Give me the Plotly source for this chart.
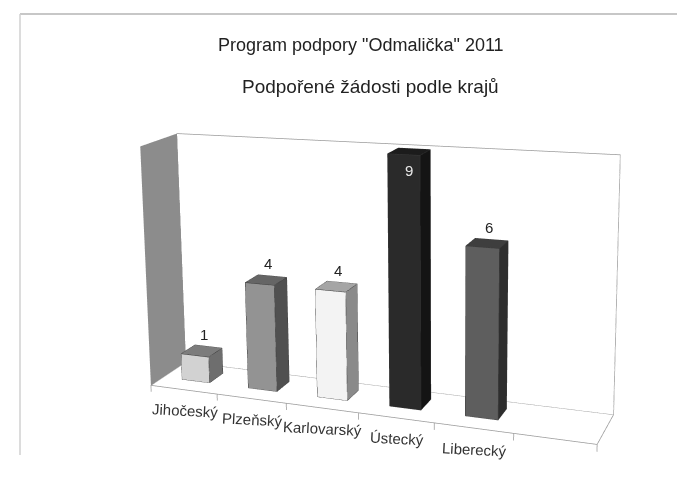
import plotly.graph_objects as go

categories = ["Jihočeský", "Plzeňský", "Karlovarský", "Ústecký", "Liberecký"]
values = [1, 4, 4, 9, 6]
front_colors = ["#d2d2d2", "#939393", "#f3f3f3", "#2a2a2a", "#5e5e5e"]
side_colors = ["#6e6e6e", "#505050", "#8a8a8a", "#141414", "#2e2e2e"]
top_colors = ["#7c7c7c", "#656565", "#a5a5a5", "#1c1c1c", "#3e3e3e"]

XR = [-0.05, 6.05]
YR = [-0.02, 1.02]
ZR = [-0.3, 9.1]

# Plotly's 3D field of view is fixed, so a larger canvas, shifted so the window
# shows the chart, gives the long lens of the original picture.
FIG_W, FIG_H = 900, 1170
OFF_X, OFF_Y = -207, -393

ASPECT = dict(x=1.0, y=0.1785, z=0.5651)
EYE = dict(x=0.9774, y=-2.7071, z=0.7948)
CENTER = dict(x=-0.1196, y=-0.3661, z=0.2555)
UP = dict(x=0.03199, y=0.0, z=0.99949)

BAR_HALF = 0.21
Y0, Y1 = 0.35, 0.75
fig = go.Figure()


def quad_mesh(xs, ys, zs, color):
    fig.add_trace(go.Mesh3d(x=xs, y=ys, z=zs, i=[0, 0], j=[1, 2], k=[2, 3], color=color,
                            flatshading=True, hoverinfo="skip", showscale=False,
                            lighting=dict(ambient=1, diffuse=0, specular=0, fresnel=0),
                            lightposition=dict(x=0, y=0, z=1000)))


def polyline(xs, ys, zs, color="#9a9a9a", width=1.5):
    fig.add_trace(go.Scatter3d(x=xs, y=ys, z=zs, mode="lines", hoverinfo="skip",
                               line=dict(color=color, width=width), showlegend=False))


zmax = max(values)
ncat = len(categories) + 1
quad_mesh([0, 0, ncat, ncat], [1, 1, 1, 1], [0, zmax, zmax, 0], "#ffffff")
quad_mesh([0, 0, 0, 0], [0, 1, 1, 0], [0, 0, zmax, zmax], "#8c8c8c")
polyline([0, 0, ncat, ncat, 0], [1, 1, 1, 1, 1], [0, zmax, zmax, 0, 0])
polyline([0, ncat, ncat], [0, 0, 1], [0, 0, 0])
polyline([0, 0], [0, 1], [0, 0])
for t in range(ncat + 1):
    polyline([t, t], [0, 0], [0, -0.25])

for n, v in enumerate(values):
    a, b = n + 0.5 - BAR_HALF, n + 0.5 + BAR_HALF
    quad_mesh([a, a, b, b], [Y0]*4, [0, v, v, 0], front_colors[n])
    quad_mesh([b, b, b, b], [Y0, Y0, Y1, Y1], [0, v, v, 0], side_colors[n])
    quad_mesh([a, b, b, a], [Y0, Y0, Y1, Y1], [v]*4, top_colors[n])
    polyline([a, b, b, a, a], [Y0]*5, [0, 0, v, v, 0], "#3a3a3a", 1)
    polyline([b, b, b, b], [Y0, Y1, Y1, Y0], [0, 0, v, v], "#3a3a3a", 1)
    polyline([a, a, b], [Y0, Y1, Y1], [v, v, v], "#3a3a3a", 1)

anns = []
for n, c in enumerate(categories):
    anns.append(dict(x=n + 0.5, y=0, z=0, text=c, showarrow=False, textangle=3, yshift=-21, xshift=1,
                     font=dict(family="Liberation Sans", size=15, color="#333333")))
for n, v in enumerate(values):
    inside = v == zmax
    anns.append(dict(x=n + 0.5, y=0.55, z=v, text=str(v), showarrow=False,
                     yshift=-19 if inside else 16, xshift=0 if inside else 2,
                     font=dict(family="Liberation Sans", size=15,
                               color="#e8e8e8" if inside else "#222222")))


def px(x):
    return (x - OFF_X) / FIG_W


def py(y):
    return 1 - (y - OFF_Y) / FIG_H


hidden = dict(visible=False)
fig.update_layout(
    width=FIG_W, height=FIG_H, margin=dict(l=0, r=0, t=0, b=0), paper_bgcolor="white", showlegend=False,
    scene=dict(domain=dict(x=[0, 1], y=[0, 1]), aspectmode="manual", aspectratio=ASPECT, dragmode="orbit",
               camera=dict(eye=EYE, center=CENTER, up=UP, projection=dict(type="perspective")),
               xaxis=dict(range=XR, **hidden), yaxis=dict(range=YR, **hidden), zaxis=dict(range=ZR, **hidden),
               annotations=anns),
    shapes=[dict(type="line", xref="paper", yref="paper", x0=px(20), x1=px(677), y0=py(14), y1=py(14),
                 line=dict(color="#b5b5b5", width=1.5)),
            dict(type="line", xref="paper", yref="paper", x0=px(20), x1=px(20), y0=py(14), y1=py(455),
                 line=dict(color="#d0d0d0", width=1.5))],
    annotations=[dict(x=px(361), y=py(45), xref="paper", yref="paper", showarrow=False,
                      text='Program podpory "Odmalička" 2011',
                      font=dict(family="Liberation Sans", size=18, color="#222222")),
                 dict(x=px(370), y=py(86), xref="paper", yref="paper", showarrow=False,
                      text="Podpořené žádosti podle krajů",
                      font=dict(family="Liberation Sans", size=19, color="#222222"))],
)
post = ("document.body.style.margin='0';document.body.style.overflow='hidden';"
        "var g=document.getElementById('{plot_id}');g.style.position='absolute';"
        "g.style.left='%dpx';g.style.top='%dpx';" % (OFF_X, OFF_Y))
fig.write_html("out.html", post_script=post)
